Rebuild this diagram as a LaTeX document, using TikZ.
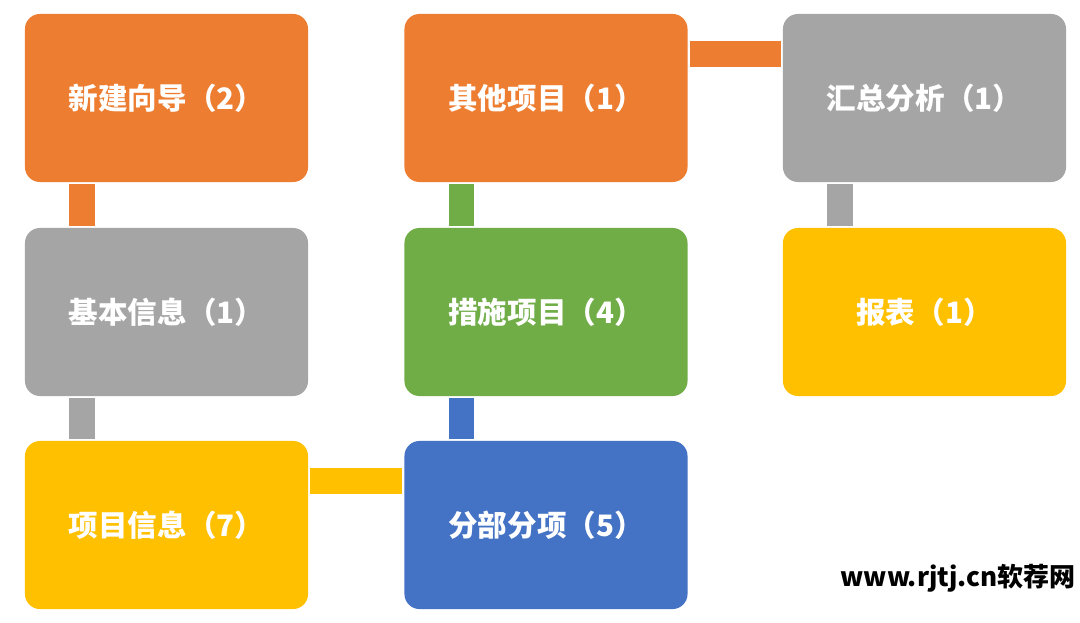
\documentclass[tikz,border=0pt]{standalone}
\usepackage{fontspec}
\usepackage{xcolor}
\newfontfamily\cjk{Noto Sans CJK SC}
\definecolor{boxorange}{HTML}{ED7D31}
\definecolor{boxgray}{HTML}{A5A5A5}
\definecolor{boxyellow}{HTML}{FFC000}
\definecolor{boxgreen}{HTML}{70AD47}
\definecolor{boxblue}{HTML}{4472C4}

\begin{document}
\begin{tikzpicture}[x=0.025cm,y=-0.025cm,
  stage/.style={rectangle,rounded corners=0.375cm,inner sep=0pt,outer sep=0pt,
    minimum width=7.075cm,minimum height=4.2cm,text=white,
    font=\cjk\bfseries\fontsize{21}{25}\selectfont},
  link/.style={line width=0.64cm,line cap=butt,shorten <=0.06cm,shorten >=0.06cm}]
  \useasboundingbox[fill=white] (0,0) rectangle (1080,623);
  % boxes
  \node[stage,fill=boxorange] (wizard)   at (166.5,98)  {新建向导（2）};
  \node[stage,fill=boxgray]   (basic)    at (166.5,312) {基本信息（1）};
  \node[stage,fill=boxyellow] (projinfo) at (166.5,525) {项目信息（7）};
  \node[stage,fill=boxorange] (other)    at (546,98)    {其他项目（1）};
  \node[stage,fill=boxgreen]  (measure)  at (546,312)   {措施项目（4）};
  \node[stage,fill=boxblue]   (subitem)  at (546,525)   {分部分项（5）};
  \node[stage,fill=boxgray]   (summary)  at (924.5,98)  {汇总分析（1）};
  \node[stage,fill=boxyellow] (report)   at (924.5,312) {报表（1）};
  % links
  \draw[link,boxorange] ([xshift=1.425cm]wizard.south west) -- ([xshift=1.425cm]basic.north west);
  \draw[link,boxgray] ([xshift=1.425cm]basic.south west) -- ([xshift=1.425cm]projinfo.north west);
  \draw[link,boxyellow] ([yshift=-1cm]projinfo.north east) -- ([yshift=-1cm]subitem.north west);
  \draw[link,boxblue] ([xshift=1.425cm]subitem.north west) -- ([xshift=1.425cm]measure.south west);
  \draw[link,boxgreen] ([xshift=1.425cm]measure.north west) -- ([xshift=1.425cm]other.south west);
  \draw[link,boxorange] ([yshift=-1cm]other.north east) -- ([yshift=-1cm]summary.north west);
  \draw[link,boxgray] ([xshift=1.425cm]summary.south west) -- ([xshift=1.425cm]report.north west);
  % site mark
  \node[font=\cjk\bfseries\fontsize{18.5}{21}\selectfont,inner sep=0pt] (site) at (958,578) {www.rjtj.cn软荐网};
\end{tikzpicture}
\end{document}
